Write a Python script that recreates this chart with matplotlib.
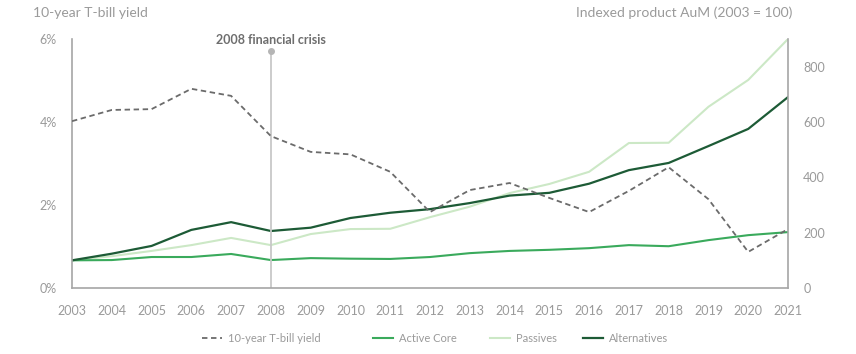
import matplotlib
matplotlib.use("Agg")
import matplotlib.pyplot as plt
from matplotlib.lines import Line2D

plt.rcParams['font.family'] = ['Lato', 'DejaVu Sans']

years = list(range(2003, 2022))
tbill_yield = [4.02, 4.29, 4.31, 4.80, 4.63, 3.66, 3.28, 3.22, 2.80, 1.83,
               2.36, 2.53, 2.17, 1.83, 2.34, 2.91, 2.14, 0.87, 1.42]
active_core = [100, 101, 112, 112, 123, 101, 108, 106, 105, 112,
               126, 134, 138, 144, 155, 151, 173, 191, 202]
passives = [100, 115, 134, 155, 181, 155, 195, 213, 214, 256,
            294, 343, 376, 420, 524, 525, 655, 752, 900]
alternatives = [100, 124, 152, 210, 238, 206, 218, 253, 272, 285,
                307, 334, 344, 377, 426, 452, 513, 575, 690]
left_ticks = [0, 2, 4, 6]
left_labels = ["0%", "2%", "4%", "6%"]
right_ticks = [0, 200, 400, 600, 800]
crisis_year = 2008
crisis_label = "2008 financial crisis"

grey_txt = "#9a9a9a"
axis_col = "#a6a6a6"
c_tbill = "#6b6b6b"
c_active = "#3aaa5c"
c_passive = "#cce8c6"
c_alt = "#1d5b36"

fig = plt.figure(figsize=(8.56, 3.54), dpi=100)
ax = fig.add_axes([72/856, 66/354, 716/856, 249/354])
ax2 = ax.twinx()

ax.set_zorder(ax2.get_zorder() + 1)
ax.patch.set_visible(False)

ax.set_xlim(2003, 2021)
ax.set_ylim(0, 6)
ax2.set_ylim(0, 900)

# crisis line
ax.plot([crisis_year, crisis_year], [0, 5.71], color="#c8c8c8", lw=1.3, zorder=1)
ax.plot([crisis_year], [5.71], marker="o", ms=4, color="#b5b5b5", zorder=2)
ax.text(crisis_year, 5.98, crisis_label, ha="center", va="center",
        fontsize=9, fontweight="bold", color="#6e6e6e")

ax2.plot(years, passives, color=c_passive, lw=1.5)
ax2.plot(years, active_core, color=c_active, lw=1.5)
ax2.plot(years, alternatives, color=c_alt, lw=1.6)
ax.plot(years, tbill_yield, color=c_tbill, lw=1.3, ls=(0, (3, 2)), zorder=3)

for a in (ax, ax2):
    for s in a.spines.values():
        s.set_visible(False)
ax.spines['left'].set_visible(True)
ax.spines['bottom'].set_visible(True)
ax2.spines['right'].set_visible(True)
for s in (ax.spines['left'], ax.spines['bottom'], ax2.spines['right']):
    s.set_color(axis_col)
    s.set_linewidth(1.2)

ax.set_yticks(left_ticks)
ax.set_yticklabels(left_labels)
ax.set_xticks(years)
ax.set_xticklabels([str(y) for y in years])
ax2.set_yticks(right_ticks)
ax.tick_params(axis='both', length=0, labelsize=9, labelcolor=grey_txt)
ax.tick_params(axis='y', pad=11)
ax.tick_params(axis='x', pad=12)
ax2.tick_params(axis='y', length=0, labelsize=9, labelcolor=grey_txt, pad=11)

fig.text(33/856, 1 - 13/354, "10-year T-bill yield", ha="left", va="center",
         fontsize=10, color=grey_txt)
fig.text(792/856, 1 - 13/354, "Indexed product AuM (2003 = 100)", ha="right",
         va="center", fontsize=10, color=grey_txt)

handles = [
    Line2D([], [], color=c_tbill, lw=1.3, ls=(0, (3, 2))),
    Line2D([], [], color=c_active, lw=1.5),
    Line2D([], [], color=c_passive, lw=1.5),
    Line2D([], [], color=c_alt, lw=1.6),
]
labels = ["10-year T-bill yield", "Active Core", "Passives", "Alternatives"]
x_starts = [202, 373, 490, 583]
for h, lab, xs in zip(handles, labels, x_starts):
    fig.legend([h], [lab], loc="center left",
               bbox_to_anchor=(xs/856, 1 - 338/354),
               frameon=False, fontsize=8, labelcolor=grey_txt,
               handlelength=1.8, handletextpad=0.5,
               borderpad=0, borderaxespad=0)

fig.savefig("out.png", dpi=100)
